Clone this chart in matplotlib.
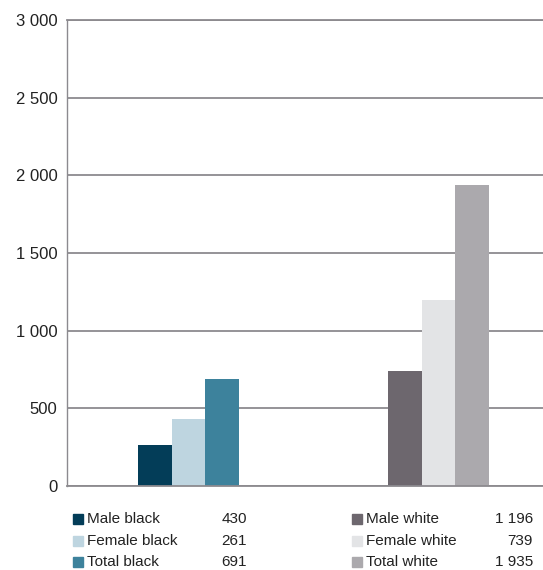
import matplotlib
matplotlib.use("Agg")
import matplotlib.pyplot as plt
from matplotlib.patches import Rectangle

plt.rcParams['font.family'] = ['Liberation Sans', 'DejaVu Sans']

# Groups and series
groups = ["black", "white"]
series_black = ["Male black", "Female black", "Total black"]
series_white = ["Male white", "Female white", "Total white"]
bars_black = [261, 430, 691]
bars_white = [739, 1196, 1935]
legend_values_black = ["430", "261", "691"]
legend_values_white = ["1 196", "739", "1 935"]
colors_black = ["#033d58", "#bed5e0", "#3d829c"]
colors_white = ["#6d676e", "#e3e4e6", "#aba9ad"]
yticks = [0, 500, 1000, 1500, 2000, 2500, 3000]
ytick_labels = ["0", "500", "1 000", "1 500", "2 000", "2 500", "3 000"]

W, H = 543, 570
fig = plt.figure(figsize=(W / 100, H / 100), dpi=100)
ax = fig.add_axes([67 / W, (H - 486) / H, 476 / W, 466 / H])

grid_color = "#8c8a8f"
text_color = "#222222"
bar_w = 0.134
for gi, (vals, cols) in enumerate([(bars_black, colors_black), (bars_white, colors_white)]):
    for si, (v, c) in enumerate(zip(vals, cols)):
        ax.bar(gi + (si - 1) * bar_w, v, width=bar_w, color=c, zorder=3, linewidth=0)

ax.set_xlim(-0.486, 1.418)
ax.set_ylim(0, 3000)
ax.set_yticks(yticks)
ax.set_yticklabels(ytick_labels, fontsize=12, color=text_color)
ax.set_xticks([])
ax.yaxis.grid(True, color=grid_color, linewidth=1.3, zorder=1)
ax.tick_params(axis="y", length=0, pad=7)
for side in ["top", "right", "bottom"]:
    ax.spines[side].set_visible(False)
ax.spines["left"].set_color(grid_color)
ax.spines["left"].set_linewidth(1.0)
ax.axhline(3000, color=grid_color, linewidth=1.3, zorder=1, clip_on=False)
ax.axhline(0, color=grid_color, linewidth=1.3, zorder=4, clip_on=False)

# Legend table below the plot
def legend_block(names, values, cols, x_box, x_val, ys):
    for name, val, col, y in zip(names, values, cols, ys):
        fig.patches.append(Rectangle((x_box / W, (H - y - 5) / H), 10 / W, 10 / H,
                                     transform=fig.transFigure, color=col, figure=fig))
        fig.text((x_box + 14) / W, (H - y) / H, name, fontsize=11, color=text_color,
                 va="center", ha="left")
        fig.text(x_val / W, (H - y) / H, val, fontsize=11, color=text_color,
                 va="center", ha="right")

rows_y = [519, 541, 562]
legend_block(series_black, legend_values_black, colors_black, 73, 247, rows_y)
legend_block(series_white, legend_values_white, colors_white, 352, 533, rows_y)

fig.savefig("out.png", dpi=100)
